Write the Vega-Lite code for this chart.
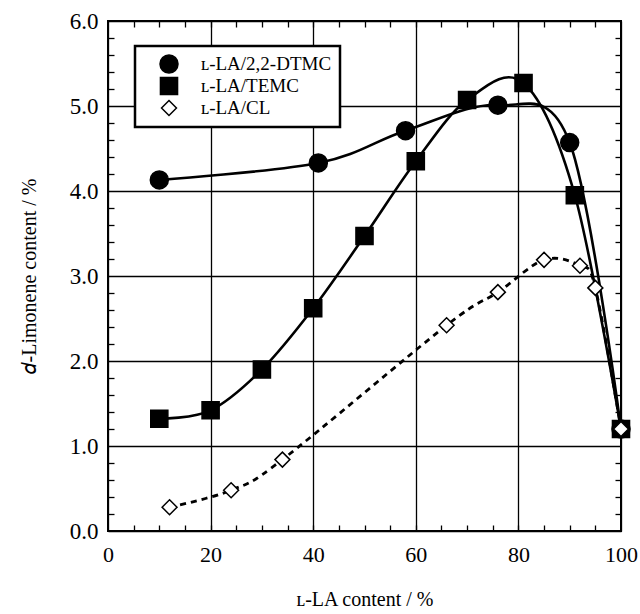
{
  "$schema": "https://vega.github.io/schema/vega-lite/v6.json",
  "width": 513,
  "height": 510,
  "autosize": {"type": "none"},
  "padding": {"left": 108, "top": 21, "right": 19, "bottom": 83},
  "background": "white",
  "config": {
    "view": {"stroke": "black", "strokeWidth": 2},
    "font": "Liberation Serif",
    "axis": {
      "labelColor": "black",
      "titleColor": "black",
      "titleFontWeight": "normal",
      "domain": false
    },
    "legend": {
      "labelFont": "Liberation Serif"
    }
  },
  "data": {
    "values": [
      {"series": "ʟ-LA/2,2-DTMC", "la": 10, "lim": 4.13},
      {"series": "ʟ-LA/2,2-DTMC", "la": 41, "lim": 4.33},
      {"series": "ʟ-LA/2,2-DTMC", "la": 58, "lim": 4.71},
      {"series": "ʟ-LA/2,2-DTMC", "la": 76, "lim": 5.01},
      {"series": "ʟ-LA/2,2-DTMC", "la": 90, "lim": 4.57},
      {"series": "ʟ-LA/2,2-DTMC", "la": 100, "lim": 1.2},
      {"series": "ʟ-LA/TEMC", "la": 10, "lim": 1.32},
      {"series": "ʟ-LA/TEMC", "la": 20, "lim": 1.42},
      {"series": "ʟ-LA/TEMC", "la": 30, "lim": 1.9},
      {"series": "ʟ-LA/TEMC", "la": 40, "lim": 2.62},
      {"series": "ʟ-LA/TEMC", "la": 50, "lim": 3.47},
      {"series": "ʟ-LA/TEMC", "la": 60, "lim": 4.35},
      {"series": "ʟ-LA/TEMC", "la": 70, "lim": 5.07},
      {"series": "ʟ-LA/TEMC", "la": 81, "lim": 5.27},
      {"series": "ʟ-LA/TEMC", "la": 91, "lim": 3.95},
      {"series": "ʟ-LA/TEMC", "la": 100, "lim": 1.2},
      {"series": "ʟ-LA/CL", "la": 12, "lim": 0.28},
      {"series": "ʟ-LA/CL", "la": 24, "lim": 0.48},
      {"series": "ʟ-LA/CL", "la": 34, "lim": 0.84},
      {"series": "ʟ-LA/CL", "la": 66, "lim": 2.42},
      {"series": "ʟ-LA/CL", "la": 76, "lim": 2.81},
      {"series": "ʟ-LA/CL", "la": 85, "lim": 3.19},
      {"series": "ʟ-LA/CL", "la": 92, "lim": 3.12},
      {"series": "ʟ-LA/CL", "la": 95, "lim": 2.86},
      {"series": "ʟ-LA/CL", "la": 100, "lim": 1.2}
    ]
  },
  "resolve": {"axis": {"x": "independent", "y": "independent"}},
  "layer": [
    {
      "transform": [{"filter": "datum.series !== 'ʟ-LA/CL'"}],
      "mark": {"type": "line", "interpolate": "cardinal", "color": "black", "strokeWidth": 2.6},
      "encoding": {
        "x": {
          "field": "la", "type": "quantitative",
          "scale": {"domain": [0, 100], "nice": false, "zero": false},
          "axis": {
            "orient": "bottom", "values": [0, 20, 40, 60, 80, 100],
            "grid": true, "gridColor": "black", "gridOpacity": 1, "gridWidth": 1.3,
            "ticks": false, "labelFont": "Liberation Serif", "labelFontSize": 22, "labelPadding": 13,
            "title": "ʟ-LA content / %", "titleFont": "Liberation Serif", "titleFontSize": 20, "titlePadding": 24,
            "labelFlush": false
          }
        },
        "y": {
          "field": "lim", "type": "quantitative",
          "scale": {"domain": [0, 6], "nice": false},
          "axis": {
            "orient": "left", "values": [0, 1, 2, 3, 4, 5, 6], "format": ".1f",
            "grid": true, "gridColor": "black", "gridOpacity": 1, "gridWidth": 1.3,
            "ticks": false, "labelFont": "Liberation Serif", "labelFontSize": 23, "labelPadding": 10,
            "title": "𝑑-Limonene content / %", "titleFont": "Liberation Serif", "titleFontSize": 20, "titlePadding": 30,
            "labelFlush": false
          }
        },
        "detail": {"field": "series"}
      }
    },
    {
      "transform": [{"filter": "datum.series === 'ʟ-LA/CL'"}],
      "mark": {"type": "line", "interpolate": "cardinal", "color": "black", "strokeWidth": 2.8, "strokeDash": [6, 5]},
      "encoding": {
        "x": {
          "field": "la", "type": "quantitative",
          "axis": {
            "orient": "top", "values": [5, 10, 15, 20, 25, 30, 35, 40, 45, 50, 55, 60, 65, 70, 75, 80, 85, 90, 95],
            "grid": false, "labels": false, "ticks": true, "tickSize": -6, "tickColor": "black", "tickWidth": 1.3, "title": null
          }
        },
        "y": {
          "field": "lim", "type": "quantitative",
          "axis": {
            "orient": "right", "values": [0.2, 0.4, 0.6, 0.8, 1.2, 1.4, 1.6, 1.8, 2.2, 2.4, 2.6, 2.8, 3.2, 3.4, 3.6, 3.8, 4.2, 4.4, 4.6, 4.8, 5.2, 5.4, 5.6, 5.8],
            "grid": false, "labels": false, "ticks": true, "tickSize": -6, "tickColor": "black", "tickWidth": 1.3, "title": null
          }
        }
      }
    },
    {
      "mark": {"type": "point", "filled": true, "opacity": 1, "stroke": "black", "strokeWidth": 1.5, "size": 324},
      "encoding": {
        "x": {
          "field": "la", "type": "quantitative",
          "axis": {
            "orient": "bottom", "values": [5, 10, 15, 20, 25, 30, 35, 40, 45, 50, 55, 60, 65, 70, 75, 80, 85, 90, 95],
            "grid": false, "labels": false, "ticks": true, "tickSize": -6, "tickColor": "black", "tickWidth": 1.3, "title": null
          }
        },
        "y": {
          "field": "lim", "type": "quantitative",
          "axis": {
            "orient": "left", "values": [0.2, 0.4, 0.6, 0.8, 1.2, 1.4, 1.6, 1.8, 2.2, 2.4, 2.6, 2.8, 3.2, 3.4, 3.6, 3.8, 4.2, 4.4, 4.6, 4.8, 5.2, 5.4, 5.6, 5.8],
            "grid": false, "labels": false, "ticks": true, "tickSize": -6, "tickColor": "black", "tickWidth": 1.3, "title": null
          }
        },
        "shape": {
          "field": "series", "type": "nominal",
          "scale": {"domain": ["ʟ-LA/2,2-DTMC", "ʟ-LA/TEMC", "ʟ-LA/CL"], "range": ["circle", "M-0.95,-0.95H0.95V0.95H-0.95Z", "M-0.83,0L0,-0.83L0.83,0L0,0.83Z"]},
          "legend": {
            "orient": "none", "legendX": 27, "legendY": 25, "title": null,
            "fillColor": "white", "strokeColor": "black", "padding": 8,
            "labelFontSize": 19, "labelColor": "black",
            "symbolSize": 324, "symbolStrokeColor": "black", "symbolStrokeWidth": 2,
            "symbolOffset": 16, "labelOffset": 22, "rowPadding": -2.5,
            "encoding": {
              "symbols": {
                "stroke": {"value": "black"},
                "strokeWidth": {"value": 1.5}
              },
              "legend": {
                "strokeWidth": {"value": 2.5}
              }
            }
          }
        },
        "fill": {
          "field": "series", "type": "nominal",
          "scale": {"domain": ["ʟ-LA/2,2-DTMC", "ʟ-LA/TEMC", "ʟ-LA/CL"], "range": ["black", "black", "white"]},
          "legend": null
        }
      }
    }
  ]
}
